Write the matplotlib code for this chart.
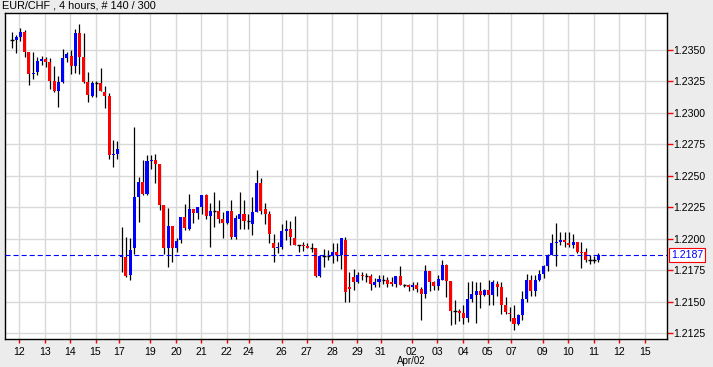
import numpy as np
import matplotlib
matplotlib.use('Agg')
import matplotlib.pyplot as plt
import matplotlib.transforms as mtransforms

plt.rcParams['font.family'] = ['Liberation Sans', 'DejaVu Sans']
plt.rcParams['lines.scale_dashes'] = False

#data (4h candles, EUR/CHF)
opens = [
    1.23575, 1.23579, 1.23603, 1.23640, 1.23482, 1.23310, 1.23323, 1.23413, 1.23426, 1.23402,
    1.23252, 1.23175, 1.23244, 1.23434, 1.23450, 1.23373, 1.23633, 1.23444, 1.23244, 1.23133,
    1.23233, 1.23236, 1.23164, 1.23133, 1.22667, 1.22672, 1.21852, 1.21855, 1.21714, 1.21928,
    1.22331, 1.22452, 1.22355, 1.22617, 1.22625, 1.22595, 1.22267, 1.21928, 1.22101, 1.21928,
    1.21992, 1.22172, 1.22077, 1.22236, 1.22206, 1.22252, 1.22347, 1.22182, 1.22220, 1.22220,
    1.22156, 1.22127, 1.22220, 1.22013, 1.22156, 1.22196, 1.22138, 1.22117, 1.22214, 1.22442,
    1.22236, 1.22196, 1.21966, 1.21928, 1.21934, 1.22061, 1.22077, 1.22008, 1.21948, 1.21948,
    1.21942, 1.21924, 1.21926, 1.21704, 1.21863, 1.21863, 1.21863, 1.21894, 1.21871, 1.21990,
    1.21617, 1.21696, 1.21656, 1.21710, 1.21704, 1.21704, 1.21632, 1.21656, 1.21672, 1.21672,
    1.21656, 1.21640, 1.21704, 1.21632, 1.21632, 1.21617, 1.21632, 1.21601, 1.21561, 1.21744,
    1.21656, 1.21624, 1.21672, 1.21791, 1.21664, 1.21424, 1.21426, 1.21410, 1.21371, 1.21521,
    1.21553, 1.21587, 1.21553, 1.21593, 1.21553, 1.21640, 1.21617, 1.21474, 1.21410, 1.21371,
    1.21323, 1.21392, 1.21521, 1.21672, 1.21585, 1.21672, 1.21720, 1.21783, 1.21871, 1.21966,
    1.21974, 1.21990, 1.21966, 1.21952, 1.21974, 1.21894, 1.21894, 1.21831, 1.21831, 1.21831,
]
highs = [
    1.23640, 1.23617, 1.23670, 1.23656, 1.23482, 1.23484, 1.23442, 1.23452, 1.23440, 1.23434,
    1.23371, 1.23291, 1.23506, 1.23484, 1.23498, 1.23667, 1.23704, 1.23633, 1.23321, 1.23249,
    1.23249, 1.23355, 1.23212, 1.23154, 1.22783, 1.22775, 1.22093, 1.22013, 1.22005, 1.22887,
    1.22490, 1.22625, 1.22664, 1.22664, 1.22672, 1.22595, 1.22267, 1.22244, 1.22101, 1.22005,
    1.22172, 1.22275, 1.22355, 1.22236, 1.22252, 1.22347, 1.22355, 1.22283, 1.22371, 1.22307,
    1.22212, 1.22220, 1.22307, 1.22188, 1.22371, 1.22307, 1.22196, 1.22331, 1.22545, 1.22482,
    1.22283, 1.22220, 1.22037, 1.21974, 1.22117, 1.22148, 1.22140, 1.22180, 1.21950, 1.21974,
    1.21966, 1.21964, 1.21926, 1.21863, 1.21918, 1.21910, 1.21966, 1.21966, 1.22005, 1.22011,
    1.21736, 1.21759, 1.21736, 1.21736, 1.21728, 1.21720, 1.21688, 1.21712, 1.21712, 1.21696,
    1.21696, 1.21704, 1.21783, 1.21640, 1.21640, 1.21656, 1.21656, 1.21617, 1.21791, 1.21744,
    1.21664, 1.21712, 1.21831, 1.21799, 1.21664, 1.21513, 1.21442, 1.21474, 1.21656, 1.21664,
    1.21659, 1.21659, 1.21598, 1.21675, 1.21672, 1.21664, 1.21656, 1.21537, 1.21455, 1.21474,
    1.21402, 1.21587, 1.21720, 1.21712, 1.21712, 1.21751, 1.21791, 1.21878, 1.22037, 1.22122,
    1.22051, 1.22051, 1.22051, 1.22035, 1.21974, 1.21974, 1.21926, 1.21871, 1.21863, 1.21886,
]
lows = [
    1.23516, 1.23476, 1.23571, 1.23444, 1.23222, 1.23270, 1.23302, 1.23381, 1.23360, 1.23190,
    1.23164, 1.23048, 1.23238, 1.23402, 1.23307, 1.23313, 1.23310, 1.23238, 1.23087, 1.23122,
    1.23127, 1.23170, 1.23040, 1.22635, 1.22571, 1.22635, 1.21736, 1.21696, 1.21675, 1.21878,
    1.22135, 1.22347, 1.22347, 1.22556, 1.22444, 1.22230, 1.21878, 1.21778, 1.21815, 1.21894,
    1.21968, 1.22069, 1.22069, 1.22127, 1.22156, 1.22198, 1.22156, 1.21936, 1.22095, 1.22124,
    1.22008, 1.22117, 1.22000, 1.22000, 1.22077, 1.22077, 1.22077, 1.22029, 1.22214, 1.22196,
    1.22117, 1.21968, 1.21815, 1.21886, 1.21918, 1.21990, 1.21950, 1.21950, 1.21894, 1.21902,
    1.21926, 1.21894, 1.21696, 1.21696, 1.21775, 1.21831, 1.21807, 1.21823, 1.21759, 1.21497,
    1.21497, 1.21593, 1.21648, 1.21672, 1.21656, 1.21593, 1.21617, 1.21617, 1.21640, 1.21617,
    1.21624, 1.21617, 1.21632, 1.21617, 1.21585, 1.21593, 1.21577, 1.21355, 1.21529, 1.21585,
    1.21593, 1.21593, 1.21672, 1.21537, 1.21315, 1.21323, 1.21347, 1.21323, 1.21340, 1.21497,
    1.21331, 1.21450, 1.21545, 1.21474, 1.21474, 1.21545, 1.21405, 1.21402, 1.21347, 1.21275,
    1.21315, 1.21355, 1.21497, 1.21545, 1.21545, 1.21664, 1.21688, 1.21744, 1.21871, 1.21783,
    1.21950, 1.21934, 1.21934, 1.21924, 1.21886, 1.21767, 1.21815, 1.21799, 1.21807, 1.21815,
]
closes = [
    1.23575, 1.23603, 1.23640, 1.23482, 1.23307, 1.23317, 1.23410, 1.23426, 1.23405, 1.23254,
    1.23175, 1.23244, 1.23434, 1.23466, 1.23373, 1.23633, 1.23444, 1.23244, 1.23143, 1.23236,
    1.23233, 1.23175, 1.23133, 1.22667, 1.22672, 1.22712, 1.21857, 1.21706, 1.21910, 1.22331,
    1.22452, 1.22355, 1.22617, 1.22625, 1.22595, 1.22267, 1.21928, 1.22101, 1.21928, 1.21982,
    1.22172, 1.22087, 1.22236, 1.22206, 1.22252, 1.22347, 1.22182, 1.22220, 1.22220, 1.22159,
    1.22127, 1.22220, 1.22013, 1.22164, 1.22196, 1.22140, 1.22138, 1.22212, 1.22442, 1.22220,
    1.22196, 1.22040, 1.21926, 1.21932, 1.22061, 1.22077, 1.22013, 1.21950, 1.21948, 1.21942,
    1.21926, 1.21924, 1.21704, 1.21863, 1.21863, 1.21863, 1.21894, 1.21871, 1.22005, 1.21577,
    1.21601, 1.21656, 1.21712, 1.21706, 1.21704, 1.21640, 1.21656, 1.21680, 1.21672, 1.21640,
    1.21640, 1.21704, 1.21632, 1.21632, 1.21617, 1.21632, 1.21601, 1.21561, 1.21744, 1.21656,
    1.21624, 1.21680, 1.21791, 1.21664, 1.21426, 1.21424, 1.21410, 1.21371, 1.21521, 1.21561,
    1.21587, 1.21553, 1.21593, 1.21553, 1.21656, 1.21617, 1.21474, 1.21418, 1.21405, 1.21323,
    1.21394, 1.21521, 1.21672, 1.21585, 1.21672, 1.21720, 1.21783, 1.21871, 1.21966, 1.21974,
    1.21990, 1.21974, 1.21952, 1.21974, 1.21894, 1.21886, 1.21831, 1.21831, 1.21831, 1.21871,
]

# day separators, in candle index units
day_pos = [1.7, 7.9, 13.8, 19.8, 25.4, 32.8, 38.9, 44.9, 50.9, 56.1, 63.9, 69.9, 75.9,
           81.9, 87.4, 94.8, 100.8, 106.9, 112.8, 118.4, 125.8, 131.9, 137.9, 144.0, 150.0]
day_labels = ['12', '13', '14', '15', '17', '19', '20', '21', '22', '24', '26', '27', '28',
              '29', '31', '02', '03', '04', '05', '07', '09', '10', '11', '12', '15']
price_ticks = [1.2125, 1.2150, 1.2175, 1.2200, 1.2225, 1.2250, 1.2275, 1.2300, 1.2325, 1.2350]
last_price = 1.2187

o = np.array(opens)
h = np.array(highs)
l = np.array(lows)
c = np.array(closes)
idx = np.arange(len(o))

fig = plt.figure(figsize=(7.13, 3.67), dpi=100, facecolor='#ececec')
ax = fig.add_axes([5/713, 1-339/367, 661.7/713, 326/367])
ax.set_facecolor('white')
ax.set_xlim(-1.66, 155.2)
ax.set_ylim(1.21204, 1.23791)

# grid
ax.set_axisbelow(True)
ax.grid(True, color='#d9d9d9', linewidth=1.0)

# wicks
ax.vlines(idx, l, h, color='black', linewidth=0.9, zorder=2)

# bodies
up = c > o
dn = c < o
eq = c == o
minh = 0.00008
ax.bar(idx[up], np.maximum(c[up]-o[up], minh), bottom=o[up], width=0.72,
       color='#0000ff', linewidth=0, zorder=3)
ax.bar(idx[dn], np.maximum(o[dn]-c[dn], minh), bottom=c[dn], width=0.72,
       color='#ff0000', linewidth=0, zorder=3)
ax.hlines(o[eq], idx[eq]-0.4, idx[eq]+0.4, color='black', linewidth=1.0, zorder=3)

# last price line
ax.axhline(last_price, color='#0000ff', linewidth=0.8, dashes=(3.6, 2.2), zorder=4)
trans = mtransforms.blended_transform_factory(ax.transAxes, ax.transData)
ax.text(1.0063, last_price, '%.4f' % last_price, transform=trans, color='#0000ff',
        fontsize=7.6, va='center', ha='left', clip_on=False,
        bbox=dict(boxstyle='square,pad=0.15', fc='white', ec='red', lw=0.8))

# axes
ax.set_xticks(day_pos)
ax.set_xticklabels(day_labels)
ax.set_yticks(price_ticks)
ax.set_yticklabels(['%.4f' % p for p in price_ticks])
ax.yaxis.tick_right()
ax.tick_params(axis='x', color='red', labelcolor='black', length=3, width=1,
               pad=3, labelsize=7.6)
ax.tick_params(axis='y', color='red', labelcolor='black', length=4, width=1,
               pad=1, labelsize=7.6)
for s in ax.spines.values():
    s.set_color('black')
    s.set_linewidth(1.0)

fig.text(2/713, 1-1/367, 'EUR/CHF , 4 hours, # 140 / 300', ha='left', va='top',
         fontsize=7.8)
fig.text(411.7/713, 1/367, 'Apr/02', ha='center', va='bottom', fontsize=7.0)

fig.savefig('out.png', dpi=100, facecolor=fig.get_facecolor())
